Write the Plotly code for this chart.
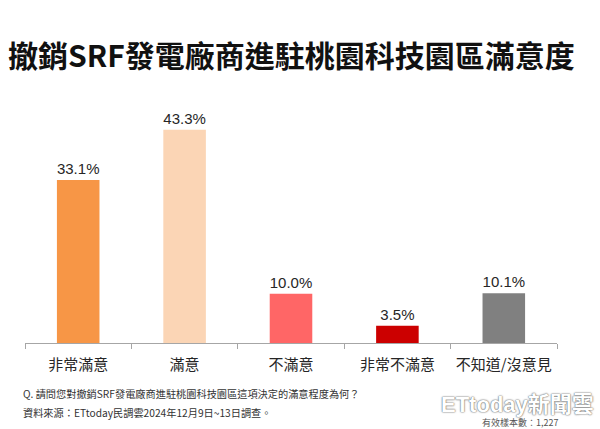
import plotly.graph_objects as go

categories = ["非常滿意", "滿意", "不滿意", "非常不滿意", "不知道/沒意見"]
values = [33.1, 43.3, 10.0, 3.5, 10.1]
bar_colors = ["#F79646", "#FBD5B5", "#FF6666", "#CC0000", "#808080"]

title_text = "撤銷SRF發電廠商進駐桃園科技園區滿意度"
question_text = "Q. 請問您對撤銷SRF發電廠商進駐桃園科技園區這項決定的滿意程度為何？"
source_text = "資料來源：ETtoday民調雲2024年12月9日~13日調查。"
sample_text = "有效樣本數：1,227"
brand_text = "ETtoday新聞雲"

CJK = "Noto Sans CJK TC"
LAT = "Liberation Sans, Arial, " + CJK

W, H = 600, 429
l, r, t, b = 25, 43, 113, 86
pw, ph = W - l - r, H - t - b


def px(x):
    return (x - l) / pw


def py(y):
    return (H - b - y) / ph


fig = go.Figure(go.Bar(
    x=categories, y=values,
    marker=dict(color=bar_colors, line=dict(width=0)),
    width=0.4,
    text=[f"{v:.1f}%" for v in values],
    textposition="outside",
    textfont=dict(family=LAT, size=15, color="#262626"),
    cliponaxis=False,
    hoverinfo="skip",
))


def ann(text, x, y, size, color, xanchor="left", family=CJK, **kw):
    return dict(text=text, x=px(x), y=py(y), xref="paper", yref="paper",
                showarrow=False, xanchor=xanchor, yanchor="middle",
                font=dict(family=family, size=size, color=color, **kw))


fig.update_layout(
    width=W, height=H,
    paper_bgcolor="white", plot_bgcolor="white",
    margin=dict(l=l, r=r, t=t, b=b),
    showlegend=False,
    xaxis=dict(
        showline=True, linecolor="#A6A6A6", linewidth=1,
        ticks="outside", tickson="boundaries", ticklen=5, tickcolor="#A6A6A6",
        tickfont=dict(family=CJK, size=15, color="#262626"),
        ticklabelstandoff=8,
        showgrid=False,
    ),
    yaxis=dict(range=[0, 46.7], visible=False, showgrid=False),
    annotations=[
        ann(f"<b>{title_text}</b>", 6, 54, 30, "#111111"),
        ann(question_text, 21, 393, 10.2, "#333333"),
        ann(source_text, 21, 412, 10.2, "#333333"),
        ann(sample_text, 560, 422, 9, "#555555", xanchor="right"),
        ann(f"<b>{brand_text}</b>", 596, 404, 22, "white", xanchor="right", family=LAT,
            shadow="0px 0px 2px #666, 0px 0px 1px #666"),
    ],
)

fig.write_html("out.html", config={"displayModeBar": False},
               post_script="document.body.style.margin='0';")
